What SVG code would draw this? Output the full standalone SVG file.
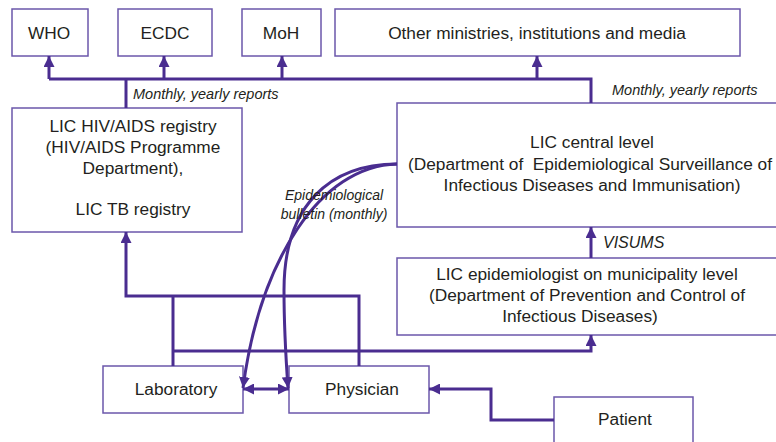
<svg xmlns="http://www.w3.org/2000/svg" width="776" height="442" viewBox="0 0 776 442">
<style>
.box{fill:#fff;stroke:#6b57ab;stroke-width:1.5}
.t{font-family:"Liberation Sans",Arial,sans-serif;font-size:17.3px;fill:#231f20;text-anchor:middle}
.i{font-family:"Liberation Sans",Arial,sans-serif;font-style:italic;font-size:14.5px;fill:#231f20}
.ln{fill:none;stroke:#4a2d90;stroke-width:3}
</style>
<defs>
<marker id="ah" viewBox="0 0 10 10" refX="10" refY="5" markerWidth="11" markerHeight="11" markerUnits="userSpaceOnUse" orient="auto-start-reverse">
<path d="M0,0 L10,5 L0,10 z" fill="#4a2d90"/>
</marker>
</defs>
<g id="who"><rect class="box" x="12" y="9" width="76" height="47"/><text class="t" x="49" y="39">WHO</text></g>
<g id="ecdc"><rect class="box" x="118" y="9" width="94" height="47"/><text class="t" x="165" y="39">ECDC</text></g>
<g id="moh"><rect class="box" x="242" y="9" width="79" height="47"/><text class="t" x="281" y="39">MoH</text></g>
<g id="other"><rect class="box" x="335" y="9" width="405" height="47"/><text class="t" x="537" y="39">Other ministries, institutions and media</text></g>
<g id="registry"><rect class="box" x="12" y="108" width="230" height="124"/>
<text class="t" x="133" y="132">LIC HIV/AIDS registry</text>
<text class="t" x="133" y="153">(HIV/AIDS Programme</text>
<text class="t" x="133" y="174">Department),</text>
<text class="t" x="133" y="215">LIC TB registry</text></g>
<g id="central"><rect class="box" x="397" y="103" width="390" height="124"/>
<text class="t" x="592" y="148">LIC central level</text>
<text class="t" x="590" y="170" xml:space="preserve">(Department of  Epidemiological Surveillance of</text>
<text class="t" x="592" y="191">Infectious Diseases and Immunisation)</text></g>
<g id="epidemiologist"><rect class="box" x="397" y="258" width="390" height="77"/>
<text class="t" x="587" y="280">LIC epidemiologist on municipality level</text>
<text class="t" x="587" y="301">(Department of Prevention and Control of</text>
<text class="t" x="580" y="322">Infectious Diseases)</text></g>
<g id="laboratory"><rect class="box" x="103" y="366" width="140" height="47"/><text class="t" x="176" y="395">Laboratory</text></g>
<g id="physician"><rect class="box" x="289" y="366" width="140" height="47"/><text class="t" x="362" y="395">Physician</text></g>
<g id="patient"><rect class="box" x="554" y="397" width="139" height="60"/><text class="t" x="625" y="425">Patient</text></g>
<g id="connectors">
<path class="ln" d="M49,79 H591 V103"/>
<path class="ln" d="M126,108 V79"/>
<path class="ln" d="M49,79 V56" marker-end="url(#ah)"/>
<path class="ln" d="M164,79 V56" marker-end="url(#ah)"/>
<path class="ln" d="M282,79 V56" marker-end="url(#ah)"/>
<path class="ln" d="M537,79 V56" marker-end="url(#ah)"/>
<path class="ln" d="M591,258 V227" marker-end="url(#ah)"/>
<path class="ln" d="M359,366 V296 H126 V232" marker-end="url(#ah)"/>
<path class="ln" d="M173,366 V296"/>
<path class="ln" d="M173,351 H591 V335" marker-end="url(#ah)"/>
<path class="ln" d="M243,389 H289" marker-start="url(#ah)" marker-end="url(#ah)"/>
<path class="ln" d="M554,420 H491 V389 H429" marker-end="url(#ah)"/>
<path class="ln" d="M397,164 C320,166 260,260 243,388" marker-end="url(#ah)"/>
<path class="ln" d="M397,164 C330,164 284,205 284,290 C284,330 286,360 288,388" marker-end="url(#ah)"/>
<text class="i" x="133" y="99">Monthly, yearly reports</text>
<text class="i" x="612" y="95">Monthly, yearly reports</text>
<text class="i" x="603" y="248" style="font-size:16px">VISUMS</text>
<text class="i" x="334" y="200" text-anchor="middle" style="font-size:14px">Epidemiological</text>
<text class="i" x="334" y="219" text-anchor="middle" style="font-size:14px">bulletin (monthly)</text>
</g>
</svg>
